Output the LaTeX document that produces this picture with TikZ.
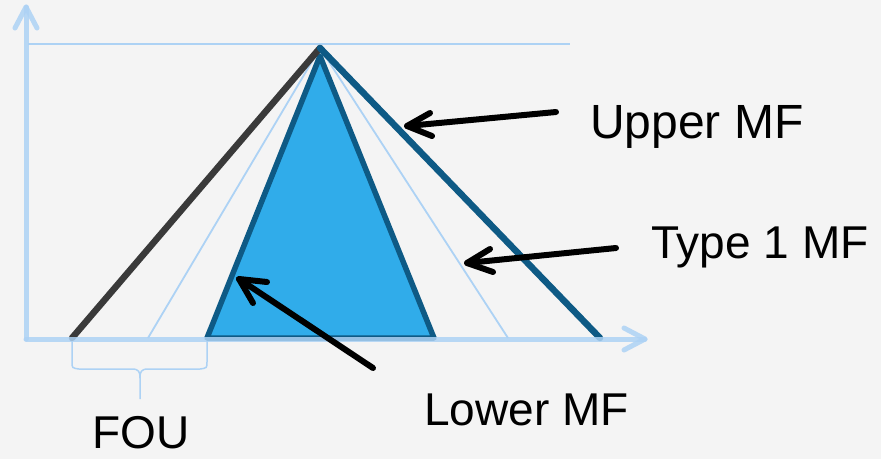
\documentclass[tikz,border=0pt]{standalone}
\usepackage{fontspec}
\setmainfont{Liberation Sans}
\definecolor{bgcol}{HTML}{F4F4F4}
\definecolor{axcol}{HTML}{ADD2F4}
\definecolor{dkblue}{HTML}{0E5A85}
\definecolor{dkgrey}{HTML}{3A3A3A}
\definecolor{fillblue}{HTML}{30ACEA}
\begin{document}
\begin{tikzpicture}[x=1pt,y=-1pt,
  axis/.style={draw=axcol,line width=5pt,line cap=round,line join=round},
  thinblue/.style={draw=axcol,line width=1.8pt},
  mfline/.style={line width=6.5pt,line cap=round,line join=round},
  pointer/.style={draw=black,line width=6pt,line cap=round,line join=round},
  lab/.style={inner sep=0pt,anchor=base west,text depth=0pt,font=\fontsize{46}{50}\selectfont}]
\fill[bgcol] (0,0) rectangle (881,459);
\useasboundingbox (0,0) rectangle (881,459);
% key points
\coordinate (apex) at (320,48);
\coordinate (lapex) at (320,56);
\coordinate (uL) at (72,338);
\coordinate (uR) at (600,338);
\coordinate (tL) at (148,338);
\coordinate (tR) at (508,338);
\coordinate (lL) at (207,338);
\coordinate (lR) at (434,338);
% top reference line
\draw[thinblue] (28,44) -- (570,44);
% type 1 MF
\draw[thinblue] (tL) -- (apex) -- (tR);
% lower MF
\draw[mfline,fill=fillblue,draw=dkblue,line width=5.5pt] (lL) -- (lapex) -- (lR) -- cycle;
% upper MF
\draw[mfline,draw=dkgrey] (uL) -- (apex);
\draw[mfline,draw=dkblue] (apex) -- (uR);
% axes
\coordinate (origin) at (26,339);
\coordinate (ytip) at (26,7);
\coordinate (xtip) at (645,339);
\draw[axis,opacity=0.85] (origin) -- (ytip);
\draw[axis,opacity=0.85] (15,28) -- (ytip) -- (37,28);
\draw[axis,opacity=0.85] (origin) -- (xtip);
\draw[axis,opacity=0.85] (624,328) -- (xtip) -- (624,350);
% FOU brace
\coordinate (bL) at (72,341);
\coordinate (bR) at (207,341);
\coordinate (bT) at (140,399);
\draw[draw=axcol,line width=1.5pt]
  (bL) -- (72,362) .. controls (72,368) .. (79,369) -- (132,369)
  .. controls (139,369) and (140,372) .. (140,378) -- (bT);
\draw[draw=axcol,line width=1.5pt]
  (bR) -- (207,362) .. controls (207,368) .. (200,369) -- (148,369)
  .. controls (141,369) and (140,372) .. (140,378);
% labels
\node[lab,font=\fontsize{48}{52}\selectfont] (upper) at (590,138) {Upper MF};
\node[lab] (type1) at (651,258) {Type 1 MF};
\node[lab] (lower) at (424,425) {Lower MF};
\node[lab] (fou) at (92,448) {FOU};
% pointers
\coordinate (p1s) at (556,112);
\coordinate (p1t) at (407,126);
\draw[pointer] (p1s) -- (p1t);
\draw[pointer] (430,113) -- (p1t) -- (432,136);
\coordinate (p2s) at (616,248);
\coordinate (p2t) at (467,263);
\draw[pointer] (p2s) -- (p2t);
\draw[pointer] (490,249) -- (p2t) -- (493,272);
\coordinate (p3s) at (373,368);
\coordinate (p3t) at (239,279);
\draw[pointer] (p3s) -- (p3t);
\draw[pointer] (267,282) -- (p3t) -- (253,303);
\end{tikzpicture}
\end{document}
